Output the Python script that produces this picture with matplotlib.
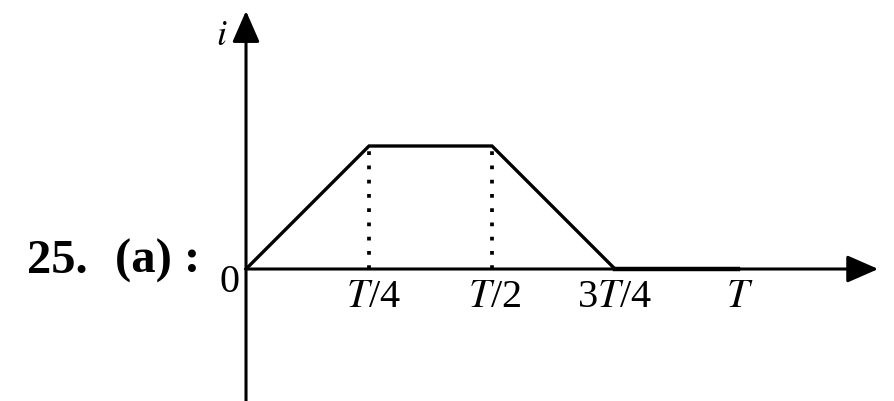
import matplotlib.pyplot as plt

plt.rcParams["font.family"] = ["Liberation Serif", "DejaVu Serif"]
plt.rcParams["mathtext.fontset"] = "stix"

# current waveform over one period (t in units of T, i in units of the peak)
t = [0.0, 0.25, 0.5, 0.75, 1.0]
current = [0.0, 1.0, 1.0, 0.0, 0.0]

tick_pos = [0.25, 0.5, 0.75, 1.0]
tick_labels = ["$T$/4", "$T$/2", "3$T$/4", "$T$"]
label_shift = [5, 3, 0, 2]  # pixels, small nudges of the labels

fig = plt.figure(figsize=(8.94, 4.02), dpi=100)
ax = fig.add_axes([0, 0, 1, 1])
ax.set_xlim(-0.5, 1.317)
ax.set_ylim(-1.073, 2.195)
ax.axis("off")

head = "-|>,head_length=0.8,head_width=0.35"
axis_props = dict(arrowstyle=head, mutation_scale=24, lw=2.2, color="black",
                  shrinkA=0, shrinkB=0)
ax.annotate("", xy=(0, 2.098), xytext=(0, -1.073), arrowprops=axis_props)
ax.annotate("", xy=(1.285, 0), xytext=(0, 0), arrowprops=axis_props)

ax.plot(t, current, color="black", lw=2.4, solid_joinstyle="miter")
ax.plot(t[3:], current[3:], color="black", lw=3.2)

# dotted drops from the flat top to the time axis
for x, y in zip(t[1:3], current[1:3]):
    ax.plot([x, x], [0, y], color="black", lw=2.7, linestyle=(0, (1, 2.8)))

for x, lab, dx in zip(tick_pos, tick_labels, label_shift):
    ax.annotate(lab, xy=(x, 0), xytext=(dx, -37), textcoords="offset pixels",
                ha="center", va="baseline", fontsize=29)

ax.annotate("0", xy=(0, 0), xytext=(-17, -22), textcoords="offset pixels",
            ha="center", va="baseline", fontsize=29)
ax.annotate("$i$", xy=(0, 2.098), xytext=(-24, -33), textcoords="offset pixels",
            ha="center", va="baseline", fontsize=26)

fig.text(27 / 894, 1 - 273 / 402, "25.", fontsize=35, fontweight="bold",
         ha="left", va="baseline")
fig.text(115 / 894, 1 - 273 / 402, "(a) :", fontsize=35, fontweight="bold",
         ha="left", va="baseline")

fig.savefig("out.png", dpi=100)
